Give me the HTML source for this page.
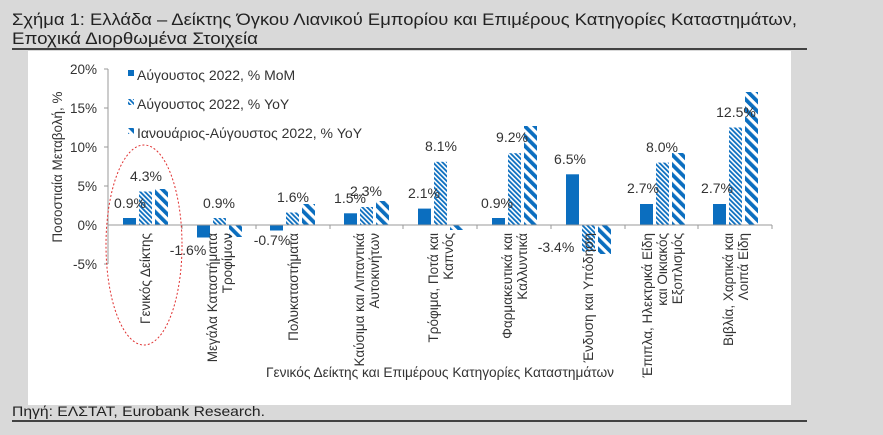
<!DOCTYPE html>
<html><head><meta charset="utf-8"><style>
html,body{margin:0;padding:0;background:#d9d9d9;}
svg{display:block;font-family:"Liberation Sans",sans-serif;}
</style></head><body>
<svg width="883" height="435" viewBox="0 0 883 435" xmlns="http://www.w3.org/2000/svg">
<defs>
<pattern id="p1" width="3.4" height="3.4" patternUnits="userSpaceOnUse" patternTransform="rotate(-45)">
<rect width="3.4" height="3.4" fill="#fff"/><rect width="1.8" height="3.4" fill="#0b6ebf"/></pattern>
<pattern id="p2" width="7" height="7" patternUnits="userSpaceOnUse" patternTransform="rotate(-45)">
<rect width="7" height="7" fill="#fff"/><rect width="3.8" height="7" fill="#0b6ebf"/></pattern>
</defs>
<rect width="883" height="435" fill="#d9d9d9"/>
<text x="12" y="25" font-size="17" fill="#222" textLength="785" lengthAdjust="spacingAndGlyphs" font-family="Liberation Sans Narrow, Liberation Sans, sans-serif">Σχήμα 1: Ελλάδα – Δείκτης Όγκου Λιανικού Εμπορίου και Επιμέρους Κατηγορίες Καταστημάτων,</text>
<text x="12" y="44" font-size="17" fill="#222" textLength="246" lengthAdjust="spacingAndGlyphs" font-family="Liberation Sans Narrow, Liberation Sans, sans-serif">Εποχικά Διορθωμένα Στοιχεία</text>
<line x1="12" y1="49" x2="807" y2="49" stroke="#111" stroke-width="1.5"/>
<rect x="28" y="51" width="763" height="354" fill="#fff"/>
<text x="12" y="416" font-size="14" fill="#222" textLength="253" lengthAdjust="spacingAndGlyphs" font-family="Liberation Sans Narrow, Liberation Sans, sans-serif">Πηγή: ΕΛΣΤΑΤ, Eurobank Research.</text>
<line x1="12" y1="421" x2="807" y2="421" stroke="#111" stroke-width="1.5"/>

<g font-size="13.5" fill="#333" text-anchor="end">
<text x="97" y="74">20%</text><text x="97" y="113">15%</text><text x="97" y="152">10%</text>
<text x="97" y="191">5%</text><text x="97" y="230">0%</text><text x="97" y="269">-5%</text>
</g>
<line x1="108" y1="69" x2="108" y2="264" stroke="#999"/>
<g stroke="#999"><line x1="104" y1="69" x2="108" y2="69"/><line x1="104" y1="108" x2="108" y2="108"/><line x1="104" y1="147" x2="108" y2="147"/><line x1="104" y1="186" x2="108" y2="186"/><line x1="104" y1="264" x2="108" y2="264"/></g>
<text transform="translate(62,167) rotate(-90)" font-size="13.5" fill="#333" text-anchor="middle">Ποσοστιαία Μεταβολή, %</text>

<rect x="128" y="70" width="6" height="6" fill="#0b6ebf"/>
<text x="137" y="80" font-size="14" fill="#333">Αύγουστος 2022, % MoM</text>
<rect x="128" y="99" width="6" height="6" fill="url(#p1)"/>
<text x="137" y="109" font-size="14" fill="#333">Αύγουστος 2022, % YoY</text>
<rect x="128" y="128" width="6" height="6" fill="url(#p2)"/>
<text x="137" y="138" font-size="14" fill="#333">Ιανουάριος-Αύγουστος 2022, % YoY</text>

<g fill="#0b6ebf">
<rect x="123" y="218" width="13" height="7"/>
<rect x="197" y="225" width="13" height="12.5"/>
<rect x="270" y="225" width="13" height="5.5"/>
<rect x="344" y="213.3" width="13" height="11.7"/>
<rect x="418" y="208.6" width="13" height="16.4"/>
<rect x="492" y="218" width="13" height="7"/>
<rect x="566" y="174.3" width="13" height="50.7"/>
<rect x="640" y="204" width="13" height="21"/>
<rect x="713" y="204" width="13" height="21"/>
</g>
<g fill="url(#p1)">
<rect x="139" y="191.5" width="13" height="33.5"/>
<rect x="213" y="218" width="13" height="7"/>
<rect x="286" y="212.5" width="13" height="12.5"/>
<rect x="360" y="207" width="13" height="18"/>
<rect x="434" y="161.8" width="13" height="63.2"/>
<rect x="508" y="153.2" width="13" height="71.8"/>
<rect x="582" y="225" width="13" height="26.5"/>
<rect x="656" y="162.6" width="13" height="62.4"/>
<rect x="729" y="127.5" width="13" height="97.5"/>
</g>
<g fill="url(#p2)">
<rect x="155" y="189" width="13" height="36"/>
<rect x="229" y="225" width="13" height="12"/>
<rect x="302" y="204" width="13" height="21"/>
<rect x="376" y="201" width="13" height="24"/>
<rect x="450" y="225" width="13" height="5"/>
<rect x="524" y="126" width="13" height="99"/>
<rect x="598" y="225" width="13" height="29"/>
<rect x="672" y="153" width="13" height="72"/>
<rect x="745" y="92" width="13" height="133"/>
</g>
<line x1="108" y1="225" x2="772" y2="225" stroke="#999"/>
<g stroke="#999">
<line x1="182" y1="225" x2="182" y2="229"/><line x1="256" y1="225" x2="256" y2="229"/><line x1="330" y1="225" x2="330" y2="229"/><line x1="403" y1="225" x2="403" y2="229"/><line x1="477" y1="225" x2="477" y2="229"/><line x1="551" y1="225" x2="551" y2="229"/><line x1="625" y1="225" x2="625" y2="229"/><line x1="698" y1="225" x2="698" y2="229"/><line x1="772" y1="225" x2="772" y2="229"/>
</g>

<g font-size="14" fill="#333" text-anchor="middle">
<text x="130" y="208">0.9%</text><text x="146" y="181">4.3%</text>
<text x="188" y="255">-1.6%</text><text x="219" y="208">0.9%</text>
<text x="272" y="245">-0.7%</text><text x="293" y="202">1.6%</text>
<text x="350" y="203">1.5%</text><text x="366" y="196">2.3%</text>
<text x="424" y="198">2.1%</text><text x="441" y="151">8.1%</text>
<text x="497" y="208">0.9%</text><text x="512" y="142">9.2%</text>
<text x="570" y="164">6.5%</text><text x="556" y="252">-3.4%</text>
<text x="643" y="193">2.7%</text><text x="662" y="152">8.0%</text>
<text x="717" y="193">2.7%</text><text x="736" y="117">12.5%</text>
</g>

<g font-size="13.5" fill="#333" text-anchor="end">
<text transform="translate(150,233) rotate(-90)">Γενικός Δείκτης</text>
<text transform="translate(217,233) rotate(-90)">Μεγάλα Καταστήματα</text>
<text transform="translate(232,233) rotate(-90)">Τροφίμων</text>
<text transform="translate(298,233) rotate(-90)">Πολυκαταστήματα</text>
<text transform="translate(364,233) rotate(-90)">Καύσιμα και Λιπαντικά</text>
<text transform="translate(379,233) rotate(-90)">Αυτοκινήτων</text>
<text transform="translate(438,233) rotate(-90)">Τρόφιμα, Ποτά και</text>
<text transform="translate(453,233) rotate(-90)">Καπνός</text>
<text transform="translate(512,233) rotate(-90)">Φαρμακευτικά και</text>
<text transform="translate(527,233) rotate(-90)">Καλλυντικά</text>
<text transform="translate(593,233) rotate(-90)">Ένδυση και Υπόδηση</text>
<text transform="translate(652,233) rotate(-90)">Έπιπλα, Ηλεκτρικά Είδη</text>
<text transform="translate(667,233) rotate(-90)">και Οικιακός</text>
<text transform="translate(682,233) rotate(-90)">Εξοπλισμός</text>
<text transform="translate(733,233) rotate(-90)">Βιβλία, Χαρτικά και</text>
<text transform="translate(748,233) rotate(-90)">Λοιπά Είδη</text>
</g>
<text x="266" y="377" font-size="13.5" fill="#333" textLength="348" lengthAdjust="spacingAndGlyphs" font-family="Liberation Sans Narrow, Liberation Sans, sans-serif">Γενικός Δείκτης και Επιμέρους Κατηγορίες Καταστημάτων</text>

<ellipse cx="144" cy="245" rx="38" ry="100" fill="none" stroke="#e03030" stroke-width="1" stroke-dasharray="2,2"/>
</svg>
</body></html>
